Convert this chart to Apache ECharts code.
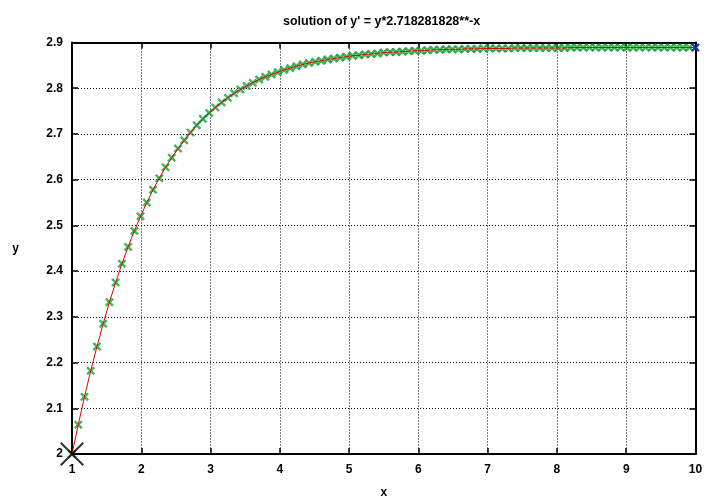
<!DOCTYPE html>
<html><head><meta charset="utf-8">
<script src="https://cdn.jsdelivr.net/npm/echarts@6/dist/echarts.min.js"></script>
<style>html,body{margin:0;padding:0;background:#fff}#c{width:720px;height:504px}</style>
</head><body><div id="c"></div>
<script>
const titleText = "solution of y' = y*2.718281828**-x";
const xName = "x";
const yName = "y";
const xMin = 1, xMax = 10, xStep = 1;
const yMin = 2, yMax = 2.9, yStep = 0.1;

// numerical solution points
const xValues = [1.00,1.09,1.18,1.27,1.36,1.45,1.54,1.63,1.72,1.81,1.90,1.99,2.08,2.17,2.26,2.35,2.44,2.53,2.62,2.71,2.80,2.89,2.98,3.07,3.16,3.25,3.34,3.43,3.52,3.61,3.70,3.79,3.88,3.97,4.06,4.15,4.24,4.33,4.42,4.51,4.60,4.69,4.78,4.87,4.96,5.05,5.14,5.23,5.32,5.41,5.50,5.59,5.68,5.77,5.86,5.95,6.04,6.13,6.22,6.31,6.40,6.49,6.58,6.67,6.76,6.85,6.94,7.03,7.12,7.21,7.30,7.39,7.48,7.57,7.66,7.75,7.84,7.93,8.02,8.11,8.20,8.29,8.38,8.47,8.56,8.65,8.74,8.83,8.92,9.01,9.10,9.19,9.28,9.37,9.46,9.55,9.64,9.73,9.82,9.91,10.00];
const yValues = [2.000,2.064,2.125,2.182,2.235,2.285,2.332,2.375,2.416,2.453,2.488,2.520,2.550,2.578,2.603,2.627,2.648,2.668,2.686,2.703,2.719,2.733,2.746,2.758,2.769,2.779,2.789,2.797,2.805,2.812,2.819,2.825,2.830,2.835,2.840,2.844,2.848,2.852,2.855,2.858,2.860,2.863,2.865,2.867,2.869,2.871,2.872,2.874,2.875,2.876,2.878,2.879,2.879,2.880,2.881,2.882,2.882,2.883,2.884,2.884,2.885,2.885,2.885,2.886,2.886,2.886,2.887,2.887,2.887,2.887,2.887,2.888,2.888,2.888,2.888,2.888,2.888,2.888,2.888,2.888,2.889,2.889,2.889,2.889,2.889,2.889,2.889,2.889,2.889,2.889,2.889,2.889,2.889,2.889,2.889,2.889,2.889,2.889,2.889,2.889,2.889];
// final point (blue) and initial point (black)
const finalX = [10], finalY = [2.889];
const initX = [1], initY = [2];

const FONT = "Liberation Sans";
const xSym = 'path://M0,1.6L1.6,0L5,3.4L8.4,0L10,1.6L6.6,5L10,8.4L8.4,10L5,6.6L1.6,10L0,8.4L3.4,5Z';
const xSymThin = 'path://M0,0.6L0.6,0L5,4.4L9.4,0L10,0.6L5.6,5L10,9.4L9.4,10L5,5.6L0.6,10L0,9.4L4.4,5Z';

const pairs = (xs, ys) => xs.map((x, i) => [x, ys[i]]);

const axisLine = {onZero:false, lineStyle:{color:'#000', width:2}};
const tick = {inside:true, length:6, lineStyle:{color:'#000', width:1.5}};
const grid = {show:true, lineStyle:{color:'#000', width:1, type:[1,2]}};
const lbl = {color:'#000', fontSize:12, fontWeight:'bold', fontFamily:FONT};

const chart = echarts.init(document.getElementById('c'), null, {renderer:'canvas'});
chart.setOption({
  animation:false,
  backgroundColor:'#fff',
  title:{text:titleText, left:278, top:10,
    textStyle:{fontSize:12.5, fontWeight:'bold', color:'#000', fontFamily:FONT}},
  grid:{left:72, right:24.5, top:42.5, bottom:42, containLabel:false},
  xAxis:[
    {type:'value', min:xMin, max:xMax, interval:xStep, position:'bottom',
     axisLine, axisTick:tick, splitLine:grid,
     axisLabel:Object.assign({margin:10}, lbl),
     name:xName, nameLocation:'middle', nameGap:33,
     nameTextStyle:Object.assign({}, lbl)},
    {type:'value', min:xMin, max:xMax, interval:xStep, position:'top',
     axisLine, axisTick:tick, splitLine:{show:false}, axisLabel:{show:false}}
  ],
  yAxis:[
    {type:'value', min:yMin, max:yMax, interval:yStep, position:'left',
     axisLine, axisTick:tick, splitLine:grid,
     axisLabel:Object.assign({margin:9}, lbl),
     name:yName, nameLocation:'middle', nameGap:53, nameRotate:0,
     nameTextStyle:Object.assign({}, lbl)},
    {type:'value', min:yMin, max:yMax, interval:yStep, position:'right',
     axisLine, axisTick:tick, splitLine:{show:false}, axisLabel:{show:false}}
  ],
  series:[
    {type:'scatter', name:'numeric', data:pairs(xValues, yValues),
     symbol:xSym, symbolSize:8, itemStyle:{color:'#10b810', borderColor:'#087060', borderWidth:0.6}, z:2},
    {type:'line', name:'exact', data:pairs(xValues, yValues), showSymbol:false,
     lineStyle:{color:'#e00000', width:1}, z:3},
    {type:'scatter', name:'final', data:pairs(finalX, finalY),
     symbol:xSym, symbolSize:8, itemStyle:{color:'#1010d0'}, z:4},
    {type:'scatter', name:'initial', data:pairs(initX, initY),
     symbol:xSymThin, symbolSize:24, itemStyle:{color:'#000'}, z:5}
  ]
});
</script></body></html>
